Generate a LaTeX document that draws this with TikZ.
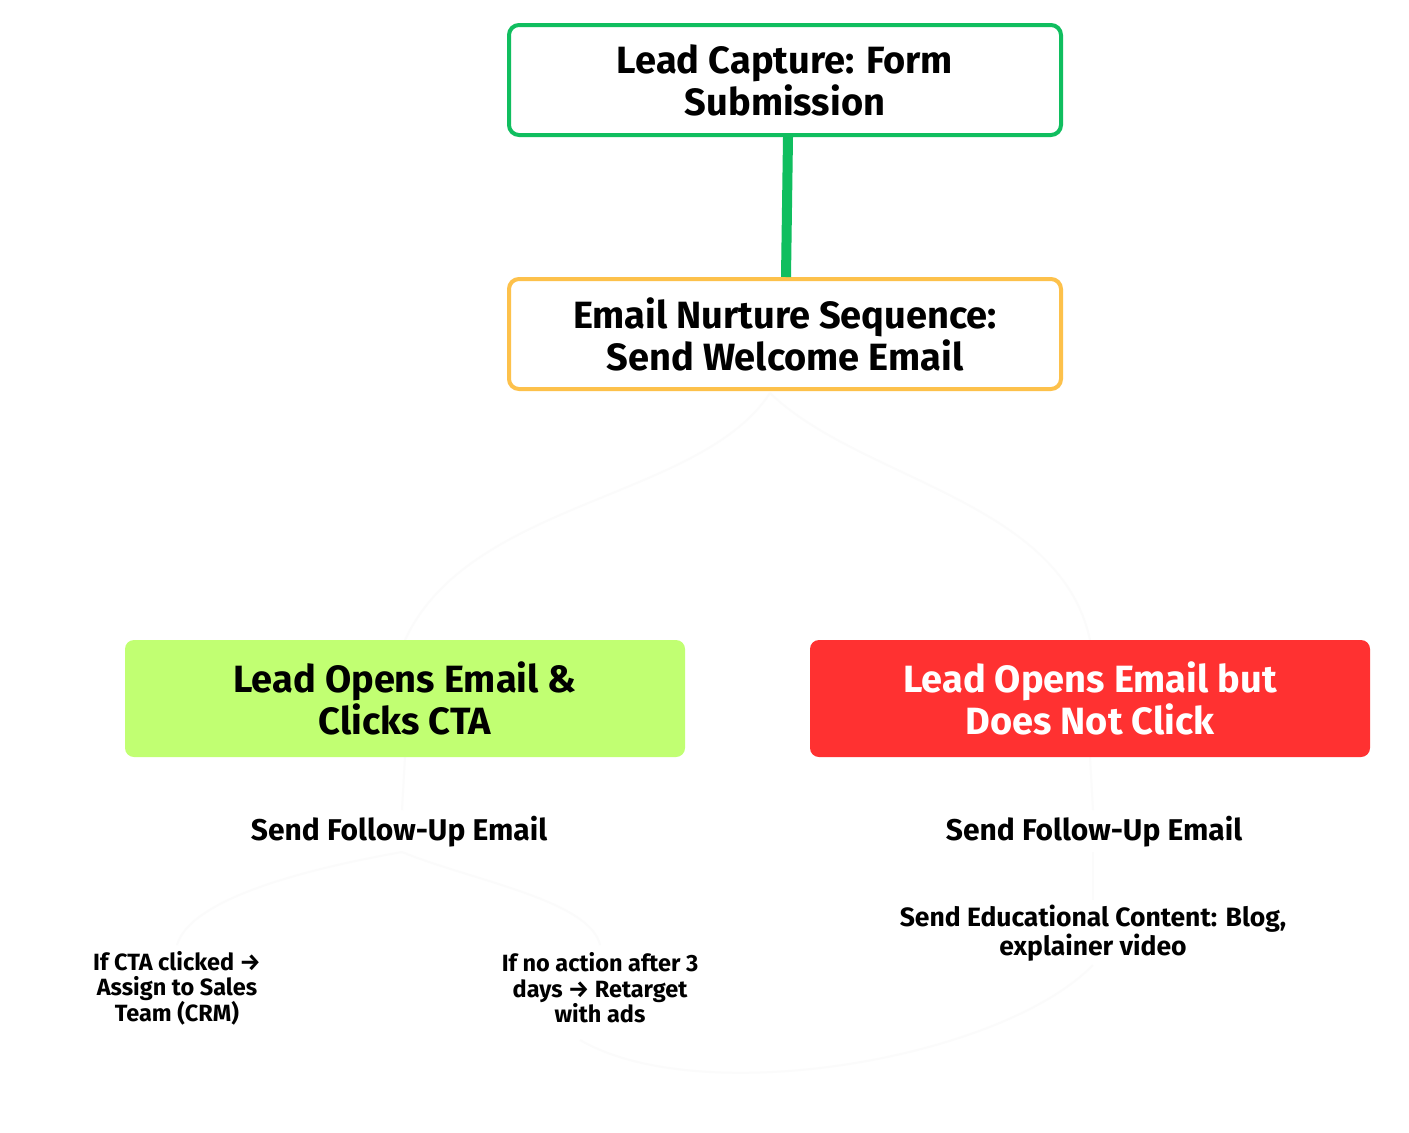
\documentclass[tikz,border=0pt]{standalone}
\usepackage{fontspec}
\setmainfont{Fira Sans}
\definecolor{cgreen}{HTML}{10BE5F}
\definecolor{corange}{HTML}{FDC14B}
\definecolor{clime}{HTML}{C1FF72}
\definecolor{cred}{HTML}{FF3131}
\definecolor{faint}{HTML}{FBFBFB}
\begin{document}
\begin{tikzpicture}[x=1pt,y=-1pt,
  outlinebox/.style={draw, line width=4pt, rounded corners=10pt, fill=white, minimum width=552pt, minimum height=110pt, align=center, font=\fontsize{38}{42}\selectfont\bfseries},
  fillbox/.style={rounded corners=9pt, minimum width=560pt, minimum height=117pt, align=center, font=\fontsize{38}{42}\selectfont\bfseries},
  midtext/.style={align=center, font=\fontsize{30}{34}\selectfont\bfseries},
  smalltext/.style={align=center, font=\fontsize{26.5}{29}\selectfont\bfseries},
  tinytext/.style={align=center, font=\fontsize{23.5}{25.5}\selectfont\bfseries},
  faintline/.style={draw=faint, line width=2pt}
]
\useasboundingbox[fill=white] (0,0) rectangle (1409,1133);

% faint connectors
\coordinate (split) at (770,393);
\draw[faintline] (split) .. controls (700,500) and (470,500) .. (405,640);
\draw[faintline] (split) .. controls (860,480) and (1060,500) .. (1090,640);
\draw[faintline] (405,757) -- (402,810);
\draw[faintline] (1090,757) -- (1093,810);
\draw[faintline] (402,852) .. controls (300,870) and (190,900) .. (177,945);
\draw[faintline] (402,852) .. controls (470,880) and (590,900) .. (600,945);
\draw[faintline] (1093,852) -- (1093,900);
\draw[faintline] (1093,965) .. controls (1000,1060) and (700,1110) .. (580,1040);

\node[outlinebox, draw=cgreen] (capture) at (785,80) {Lead Capture: Form\\Submission};
\node[outlinebox, draw=corange] (nurture) at (785,334) {Email Nurture Sequence:\\Send Welcome Email};
\draw[cgreen, line width=10pt] (capture.south) ++(3,0) -- ([xshift=1pt]nurture.north);

\node[fillbox, fill=clime] (clicks) at (405,698.5) {Lead Opens Email \&\\Clicks CTA};
\node[fillbox, fill=cred, text=white] (noclick) at (1090,698.5) {Lead Opens Email but\\Does Not Click};

\node[midtext] (fuleft) at (399,832) {Send Follow-Up Email};
\node[midtext] (furight) at (1094,832) {Send Follow-Up Email};
\node[smalltext] (edu) at (1093,933) {Send Educational Content: Blog,\\explainer video};
\node[tinytext] (cta) at (177,988) {If CTA clicked →\\Assign to Sales\\Team (CRM)};
\node[tinytext] (noaction) at (600,988) {If no action after 3\\days → Retarget\\with ads};
\end{tikzpicture}
\end{document}
